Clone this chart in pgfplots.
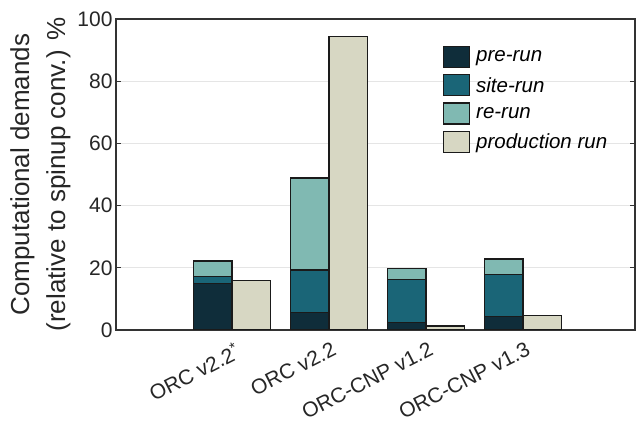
\documentclass[border=0pt]{standalone}
\usepackage{pgfplots}
\pgfplotsset{compat=1.18}
\usepackage{fontspec}
\setmainfont{Liberation Sans}
\definecolor{cpre}{HTML}{0F2D3A}
\definecolor{csite}{HTML}{1A6577}
\definecolor{cre}{HTML}{80B9B2}
\definecolor{cprod}{HTML}{D7D7C3}
\definecolor{axcol}{HTML}{333333}
\definecolor{edgecol}{HTML}{1A1A1A}
\pgfplotsset{
  common/.style={
    width=519pt, height=311pt, scale only axis,
    xmin=-0.196, xmax=5.155, ymin=0, ymax=100,
    at={(0,0)}, anchor=south west,
  },
}
\begin{document}
\begin{tikzpicture}
\begin{axis}[common,
  ybar stacked, bar width=0.4,
  axis line style={draw=axcol, line width=1.3pt},
  ytick={0,20,40,60,80,100},
  xtick={1,2,3,4},
  xticklabels={ORC v2.2\textsuperscript{*}, ORC v2.2, ORC-CNP v1.2, ORC-CNP v1.3},
  xtick style={draw=none},
  ytick style={draw=axcol, line width=1.2pt},
  tick align=inside, major tick length=5pt,
  ymajorgrids, grid style={draw=black!10, line width=1.2pt},
  /pgf/number format/assume math mode=true,
  yticklabel style={font=\fontsize{21}{25}\selectfont, text=black!85},
  xticklabel style={font=\fontsize{21}{25}\selectfont, text=black!85,
    xshift=2pt, yshift=-11pt, rotate=27, anchor=north east, inner sep=0pt},
  ylabel={Computational demands\\(relative to spinup conv.) \%},
  ylabel style={font=\fontsize{26}{36}\selectfont, align=center, text=black!85},
]
\addplot[fill=cpre, draw=edgecol, line width=1.2pt] coordinates {(0.8,15.0) (1.8,5.5) (2.8,2.5) (3.8,4.3)};
\addplot[fill=csite, draw=edgecol, line width=1.2pt] coordinates {(0.8,2.2) (1.8,13.8) (2.8,13.7) (3.8,13.6)};
\addplot[fill=cre, draw=edgecol, line width=1.2pt] coordinates {(0.8,5.0) (1.8,29.6) (2.8,3.6) (3.8,4.9)};
\end{axis}
\begin{axis}[common, hide axis,
  legend image code/.code={\draw[#1] (0pt,-10.5pt) rectangle (26pt,10.5pt);},
  legend style={draw=none, fill=none, inner sep=0pt, outer sep=0pt,
    at={(axis description cs:0.630,0.913)}, anchor=north west,
    nodes={inner sep=0pt, anchor=west},
    row sep=6pt, column sep=6pt,
    font=\itshape\fontsize{20.5}{24}\selectfont},
  legend cell align=left,
]
\addplot[ybar, bar width=0.4, bar shift=0pt, fill=cprod, draw=edgecol, line width=1.2pt, forget plot] coordinates {(1.2,15.8) (2.2,94.4) (3.2,1.3) (4.2,4.6)};
\addlegendimage{fill=cpre, draw=edgecol, line width=1.2pt}
\addlegendentry{pre-run}
\addlegendimage{fill=csite, draw=edgecol, line width=1.2pt}
\addlegendentry{site-run}
\addlegendimage{fill=cre, draw=edgecol, line width=1.2pt}
\addlegendentry{re-run}
\addlegendimage{fill=cprod, draw=edgecol, line width=1.2pt}
\addlegendentry{production run}
\end{axis}
\pgfresetboundingbox
\useasboundingbox (-116pt,-103pt) rectangle (521pt,330pt);
\end{tikzpicture}
\end{document}
